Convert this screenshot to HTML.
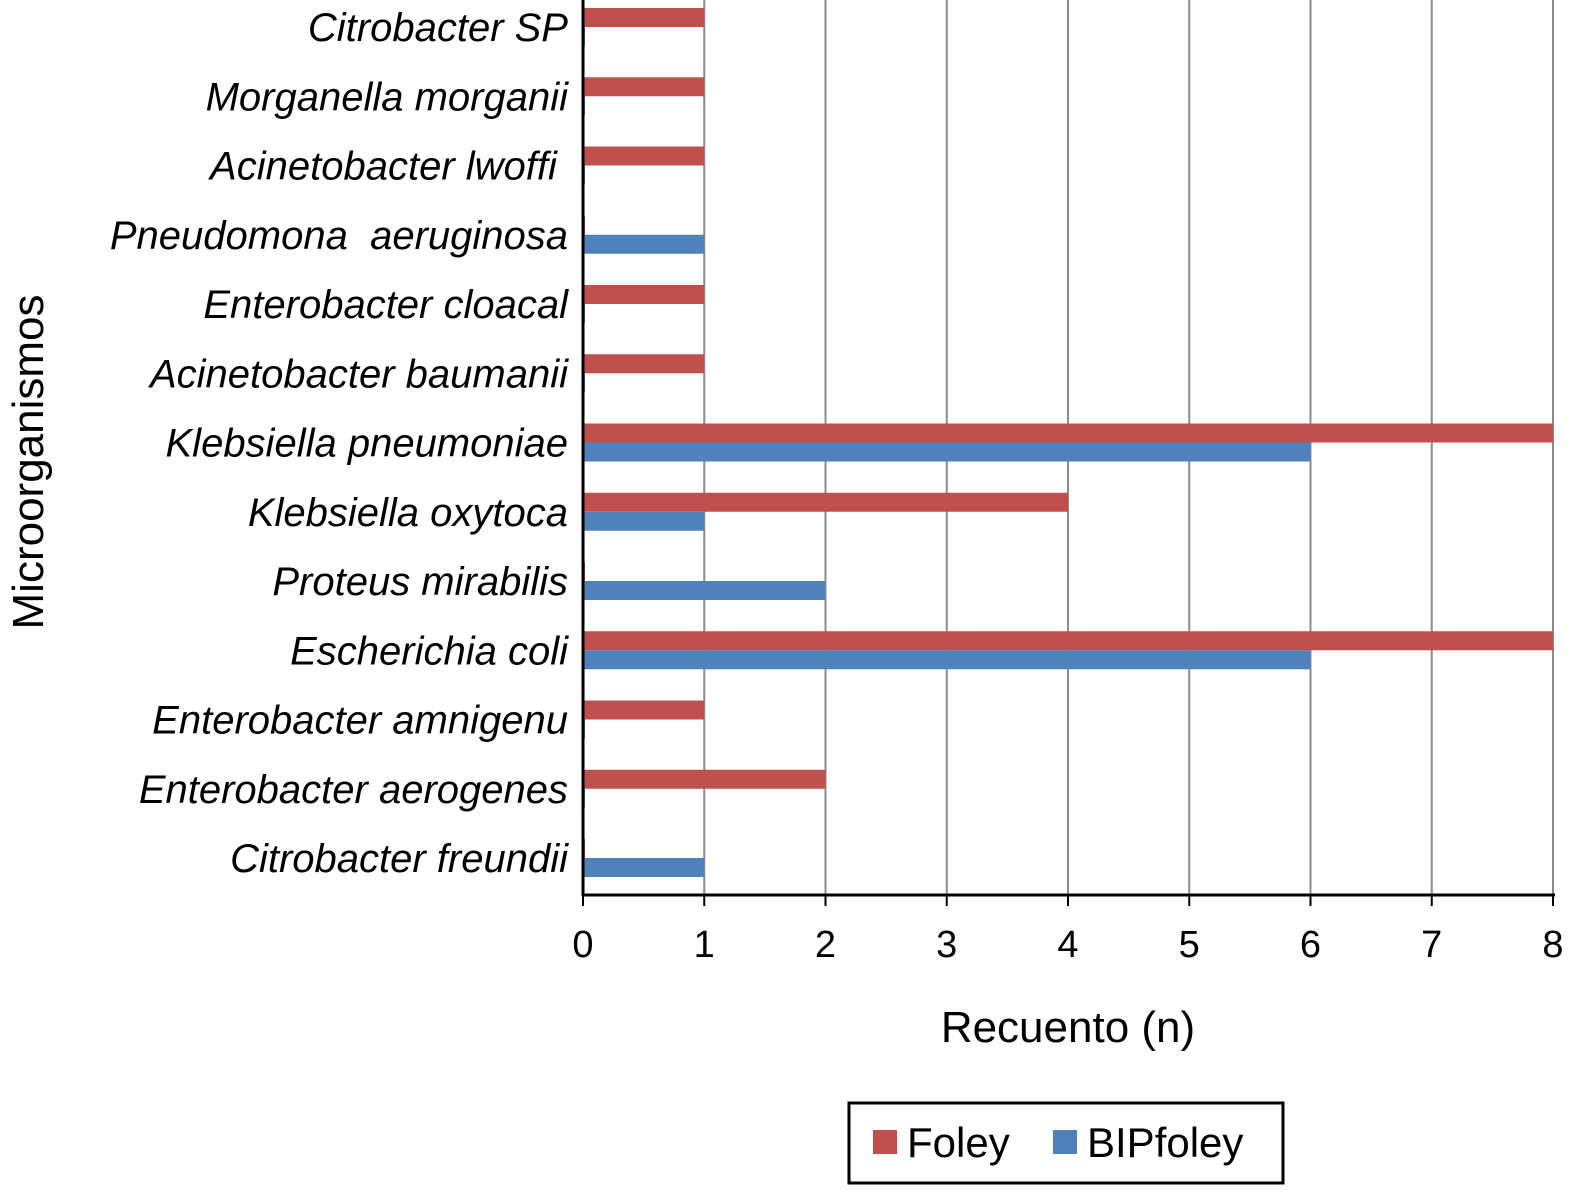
<!DOCTYPE html>
<html><head><meta charset="utf-8"><style>
body{margin:0;background:#fff;}
svg{display:block;font-family:"Liberation Sans",sans-serif;}
#ylabels text{white-space:pre;}
</style></head><body>
<svg id="chart" width="1593" height="1204" viewBox="0 0 1593 1204" xmlns="http://www.w3.org/2000/svg">
<g id="grid"></g>
<g id="bars"></g>
<g id="ylabels"></g>
<g id="xticks"></g>
<line x1="583" y1="0" x2="583" y2="896" stroke="#000" stroke-width="3"/>
<line x1="582" y1="895" x2="1555" y2="895" stroke="#000" stroke-width="3"/>
<text x="1068" y="1042" font-size="44" text-anchor="middle">Recuento (n)</text>
<text transform="translate(43,462) rotate(-90)" font-size="44" text-anchor="middle">Microorganismos</text>
<g>
<rect x="849" y="1103" width="434" height="80" fill="#fff" stroke="#000" stroke-width="3"/>
<rect x="873" y="1130" width="24" height="24" fill="#c0504d"/>
<text x="907" y="1157" font-size="42">Foley</text>
<rect x="1053" y="1130" width="24" height="24" fill="#4f81bd"/>
<text x="1087" y="1157" font-size="42">BIPfoley</text>
</g>
</svg>
<script>
const categories=["Citrobacter SP","Morganella morganii","Acinetobacter lwoffi ","Pneudomona  aeruginosa","Enterobacter cloacal","Acinetobacter baumanii","Klebsiella pneumoniae","Klebsiella oxytoca","Proteus mirabilis","Escherichia coli","Enterobacter amnigenu","Enterobacter aerogenes","Citrobacter freundii"];
const foley=[1,1,1,0,1,1,8,4,0,8,1,2,0];
const bipfoley=[0,0,0,1,0,0,6,1,2,6,0,0,1];
const xTicks=[0,1,2,3,4,5,6,7,8];
const NS="http://www.w3.org/2000/svg";
const x0=583,x1=1553,xMax=8;
const xs=v=>x0+(v/xMax)*(x1-x0);
const bandTop=27,band=69.25,bh=19;
const yb=i=>bandTop+i*band;
function mk(t,a){const e=document.createElementNS(NS,t);for(const k in a)e.setAttribute(k,a[k]);return e;}
const grid=document.getElementById('grid'),bars=document.getElementById('bars'),yl=document.getElementById('ylabels'),xt=document.getElementById('xticks');
xTicks.forEach(v=>{
 if(v>0){const l=mk('line',{x1:xs(v),y1:0,x2:xs(v),y2:895,stroke:'#8c8c8c','stroke-width':2});
 
 
 grid.appendChild(l);}
 const tk=mk('line',{x1:xs(v),y1:895,x2:xs(v),y2:906,stroke:'#000','stroke-width':2});
 
 
 xt.appendChild(tk);
 const t=mk('text',{x:xs(v),y:957,'font-size':38,'text-anchor':'middle'});
 
 
 t.textContent=v;xt.appendChild(t);
});
categories.forEach((c,i)=>{
 const b=yb(i);
 const wf=Math.max(xs(foley[i])-x0,2),wb=Math.max(xs(bipfoley[i])-x0,2);
 const r=mk('rect',{x:x0,y:b-bh,width:wf,height:bh,fill:'#c0504d'});
 
 
 bars.appendChild(r);
 const r2=mk('rect',{x:x0,y:b,width:wb,height:bh,fill:'#4f81bd'});
 
 
 bars.appendChild(r2);
 const t=mk('text',{x:568,y:b+14,'font-size':40,'font-style':'italic','text-anchor':'end'});
 
 
 t.textContent=c;yl.appendChild(t);
});
</script>
</body></html>
